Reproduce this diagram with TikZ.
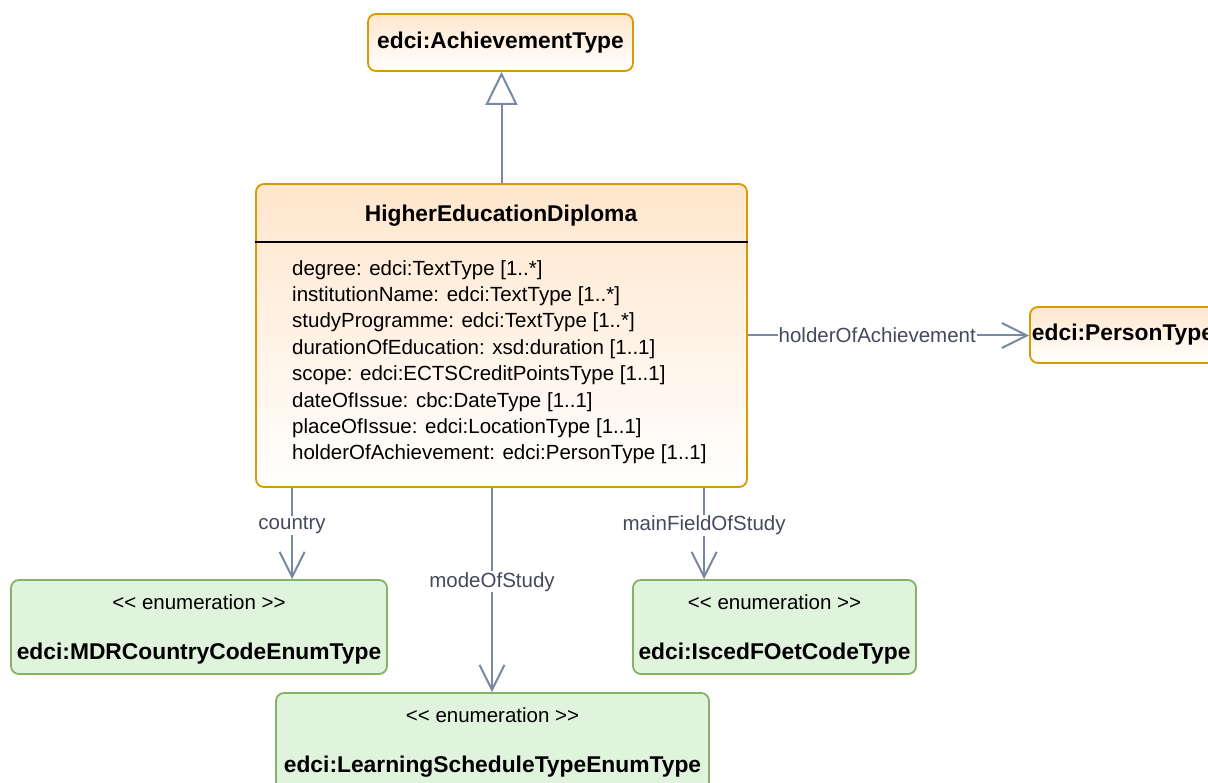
\documentclass[tikz,border=0pt]{standalone}
\usepackage{fontspec}
\setmainfont{Liberation Sans}
\usetikzlibrary{arrows.meta,calc}
\definecolor{orstroke}{HTML}{D79B00}
\definecolor{orfill}{HTML}{FFE6CC}
\definecolor{grstroke}{HTML}{82B366}
\definecolor{grfill}{HTML}{E0F3DC}
\definecolor{edgecol}{HTML}{788AA3}
\definecolor{labelcol}{HTML}{46495D}
\begin{document}
\begin{tikzpicture}[x=1pt,y=-1pt,
  regular/.style={font=\fontsize{20.5}{26.4}\selectfont},
  boldtxt/.style={font=\fontsize{22.8}{26}\selectfont\bfseries},
  classbox/.style={draw=orstroke, line width=1.8pt, rounded corners=8pt,
    top color=orfill, bottom color=white, inner sep=0pt},
  enumbox/.style={draw=grstroke, line width=1.8pt, rounded corners=8pt,
    fill=grfill, inner sep=0pt},
  assoc/.style={draw=edgecol, line width=2pt,
    -{Straight Barb[length=25pt,width=25pt,line width=2pt]}},
  elabel/.style={regular, text=labelcol, fill=white, inner sep=1pt},
]
\clip (0,0) rectangle (1208,783);
\fill[white] (0,0) rectangle (1208,783);

% parent type
\node[classbox, boldtxt, minimum width=265pt, minimum height=57pt] (ach) at (500.5,42.5) {edci:AchievementType};

% main class with header and attribute list
\node[classbox, minimum width=491pt, minimum height=303pt] (hed) at (501.5,335.5) {};
\coordinate (hsep) at (0,242);
\draw[line width=1.5pt] (hed.west |- hsep) -- (hed.east |- hsep);
\node[boldtxt] (hedT) at (501,216) {HigherEducationDiploma};
\node[regular, align=left, anchor=north west, inner sep=0pt] (hedA) at (292,260) {%
degree: edci:TextType [1..*]\\
institutionName: edci:TextType [1..*]\\
studyProgramme: edci:TextType [1..*]\\
durationOfEducation: xsd:duration [1..1]\\
scope: edci:ECTSCreditPointsType [1..1]\\
dateOfIssue: cbc:DateType [1..1]\\
placeOfIssue: edci:LocationType [1..1]\\
holderOfAchievement: edci:PersonType [1..1]};

% person type
\node[classbox, boldtxt, minimum width=186pt, minimum height=56pt] (person) at (1123,335) {edci:PersonType};

% enumerations
\node[enumbox, minimum width=376pt, minimum height=94pt] (mdr) at (199,627) {};
\node[regular] (mdrS) at ($(mdr.north)+(0,23)$) {<{}< enumeration >{}>};
\node[boldtxt] (mdrT) at ($(mdr.north)+(0,75)$) {edci:MDRCountryCodeEnumType};

\node[enumbox, minimum width=283pt, minimum height=94pt] (isc) at (774.5,627) {};
\node[regular] (iscS) at ($(isc.north)+(0,23)$) {<{}< enumeration >{}>};
\node[boldtxt] (iscT) at ($(isc.north)+(0,75)$) {edci:IscedFOetCodeType};

\node[enumbox, minimum width=433pt, minimum height=97pt] (lst) at (492.5,741.5) {};
\node[regular] (lstS) at ($(lst.north)+(0,23)$) {<{}< enumeration >{}>};
\node[boldtxt] (lstT) at ($(lst.north)+(0,75)$) {edci:LearningScheduleTypeEnumType};

% generalisation
\draw[draw=edgecol, line width=2pt,
  -{Triangle[open, length=33pt, width=32pt, fill=white, line width=2pt]}]
  (hed.north) -- (hed.north |- ach.south);

% associations
\draw[assoc] (hed.east) -- (hed.east -| person.west)
  node[elabel, pos=0.46] {holderOfAchievement};

\coordinate (c1) at ($(hed.south west)+(37,0)$);
\coordinate (c2) at ($(hed.south)+(-9.5,0)$);
\coordinate (c3) at ($(hed.south west)+(449,0)$);
\draw[assoc] (c1) -- (c1 |- mdr.north) node[elabel, pos=0.41] {country};
\draw[assoc] (c2) -- (c2 |- lst.north) node[elabel, pos=0.46] {modeOfStudy};
\draw[assoc] (c3) -- (c3 |- isc.north) node[elabel, pos=0.41] {mainFieldOfStudy};
\end{tikzpicture}
\end{document}
